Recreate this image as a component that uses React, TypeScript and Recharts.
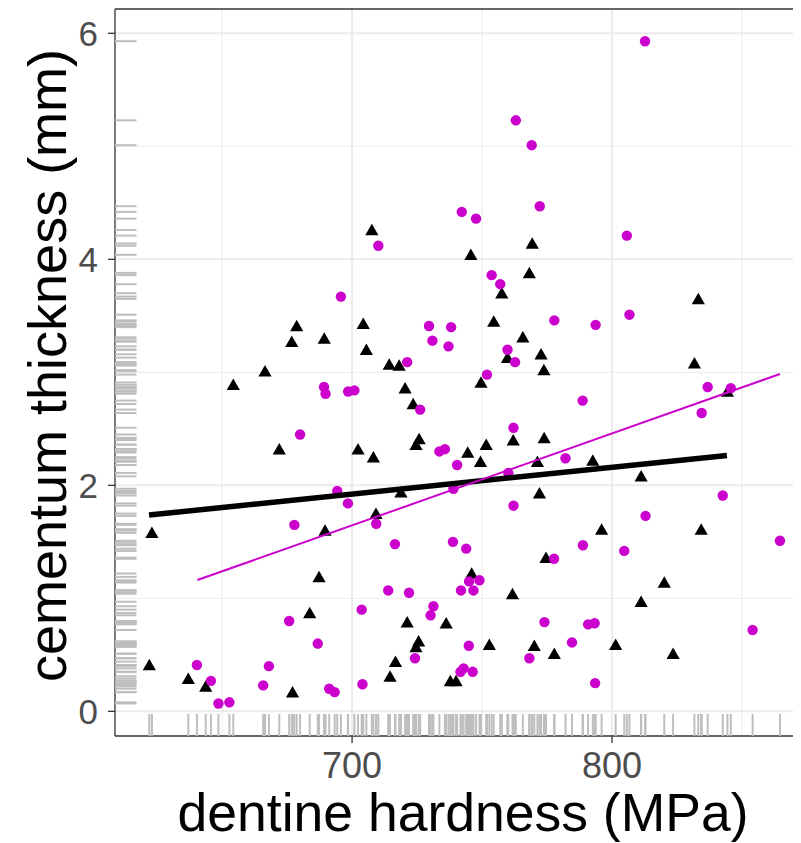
import React from "react";
import { ScatterChart, Scatter, XAxis, YAxis, ReferenceLine, Label } from "recharts";

// group 1: black triangles
const blackHardness = [
  623.0, 622.0, 637.0, 643.7, 654.3, 666.5, 672.0, 676.8, 678.7, 677.1,
  683.7, 687.3, 689.3, 689.6, 702.3, 704.3, 705.5, 707.6, 708.2, 709.2,
  714.3, 718.1, 718.8, 720.4, 723.5, 721.2, 714.6, 716.7, 725.8, 724.6,
  725.6, 724.6, 736.2, 737.8, 740.0, 744.5, 745.7, 746.0, 749.4, 749.6,
  751.6, 752.8, 754.5, 757.6, 759.8, 761.7, 762.0, 765.7, 768.2, 769.3,
  770.1, 771.3, 772.1, 772.7, 773.8, 773.9, 774.6, 777.8, 792.6, 796.0,
  801.4, 811.2, 811.2, 820.1, 823.5, 831.7, 833.2, 834.3, 844.4,
];
const blackThickness = [
  1.58, 0.41, 0.29, 0.22, 2.89, 3.01, 2.32, 3.27, 3.41, 0.17,
  0.87, 1.19, 3.30, 1.60, 2.32, 3.43, 3.20, 4.26, 2.25, 1.75,
  3.07, 3.06, 1.94, 2.86, 2.72, 0.79, 0.31, 0.44, 2.41, 2.36,
  0.62, 0.57, 0.78, 0.27, 0.27, 2.29, 4.04, 1.22, 2.21, 2.91,
  2.36, 0.59, 3.45, 3.70, 3.13, 1.04, 2.40, 3.31, 3.88, 4.14,
  0.58, 2.21, 1.93, 3.16, 3.02, 2.42, 1.36, 0.51, 2.22, 1.61,
  0.59, 2.08, 0.97, 1.14, 0.51, 3.08, 3.65, 1.61, 2.83,
];

// group 2: magenta circles
const magentaHardness = [
  812.7, 763.0, 769.1, 742.2, 747.7, 772.2, 805.7, 710.1, 695.7, 753.7,
  757.0, 806.7, 777.8, 793.7, 729.6, 738.1, 730.9, 737.1, 759.8, 762.7,
  721.2, 751.9, 788.7, 836.8, 845.7, 834.5, 689.2, 689.8, 698.5, 700.9,
  726.2, 762.1, 680.0, 733.6, 735.7, 740.4, 782.1, 760.1, 694.3, 739.0,
  842.6, 698.4, 762.1, 812.9, 677.8, 709.3, 716.5, 738.8, 743.9, 788.8,
  804.7, 864.6, 777.7, 745.0, 749.0, 713.9, 721.9, 741.9, 746.7, 703.7,
  731.3, 730.2, 675.8, 774.0, 790.8, 793.3, 854.1, 686.8, 744.9, 784.6,
  768.2, 724.2, 640.3, 668.0, 741.7, 742.9, 746.4, 645.7, 665.8, 691.2,
  693.3, 704.0, 793.5, 648.6, 652.8,
];
const magentaThickness = [
  5.93, 5.23, 5.01, 4.42, 4.36, 4.47, 4.21, 4.12, 3.67, 3.86,
  3.78, 3.51, 3.46, 3.42, 3.41, 3.40, 3.28, 3.23, 3.20, 3.09,
  3.09, 2.98, 2.75, 2.87, 2.86, 2.64, 2.87, 2.81, 2.83, 2.84,
  2.67, 2.51, 2.45, 2.30, 2.32, 2.18, 2.24, 2.11, 1.95, 1.97,
  1.91, 1.84, 1.82, 1.73, 1.65, 1.66, 1.48, 1.50, 1.44, 1.47,
  1.42, 1.51, 1.35, 1.15, 1.16, 1.07, 1.05, 1.07, 1.07, 0.90,
  0.93, 0.85, 0.80, 0.79, 0.77, 0.78, 0.72, 0.60, 0.58, 0.61,
  0.47, 0.47, 0.41, 0.40, 0.35, 0.38, 0.35, 0.27, 0.23, 0.20,
  0.17, 0.24, 0.25, 0.07, 0.08,
];

// fitted lines (end points)
const blackFitHardness = [621.9, 844.2];
const blackFitThickness = [1.737, 2.265];
const magentaFitHardness = [640.5, 864.6];
const magentaFitThickness = [1.162, 2.985];

const xMajorTicks = [700, 800];
const xMinorTicks = [650, 750, 850];
const yMajorTicks = [0, 2, 4, 6];
const yMinorTicks = [1, 3, 5];

const X_DOMAIN: [number, number] = [608.8, 872.7];
const Y_DOMAIN: [number, number] = [-0.218, 6.215];

const MAGENTA = "#CC00CC";
const RUG = "#BEBEBE";
const GRID = "#EBEBEB";
const FONT = "'Liberation Sans', Arial, Helvetica, sans-serif";

const zip = (xs: number[], ys: number[]) => xs.map((x, i) => ({ x, y: ys[i] }));

const blackData = zip(blackHardness, blackThickness);
const magentaData = zip(magentaHardness, magentaThickness);
const blackFit = zip(blackFitHardness, blackFitThickness);
const magentaFit = zip(magentaFitHardness, magentaFitThickness);

const allHardness = [...blackHardness, ...magentaHardness];
const allThickness = [...blackThickness, ...magentaThickness];
const rugXData = allHardness.map((x) => ({ x, y: Y_DOMAIN[0] }));
const rugYData = allThickness.map((y) => ({ x: X_DOMAIN[0], y }));

const Triangle = (props: any) => {
  const { cx, cy } = props;
  return (
    <polygon
      points={`${cx},${cy - 6.2} ${cx - 6.6},${cy + 5.3} ${cx + 6.6},${cy + 5.3}`}
      fill="#000"
    />
  );
};

const Dot = (props: any) => <circle cx={props.cx} cy={props.cy} r={5.2} fill={MAGENTA} />;

const RugX = (props: any) => (
  <line x1={props.cx} x2={props.cx} y1={props.cy} y2={props.cy - 22} stroke={RUG} strokeWidth={2} />
);
const RugY = (props: any) => (
  <line x1={props.cx} x2={props.cx + 21.5} y1={props.cy} y2={props.cy} stroke={RUG} strokeWidth={2} />
);

const NoDot = () => <g />;

const YTitle = ({ viewBox }: any) => {
  const x = viewBox.x + 58;
  const y = viewBox.y + viewBox.height / 2 - 7;
  return (
    <text
      x={x}
      y={y}
      transform={`rotate(-90, ${x}, ${y})`}
      textAnchor="middle"
      fontSize={54}
      fontFamily={FONT}
      fill="#000"
    >
      cementum thickness (mm)
    </text>
  );
};

const XTitle = ({ viewBox }: any) => (
  <text
    x={viewBox.x + viewBox.width / 2 + 5}
    y={viewBox.y + 95}
    textAnchor="middle"
    fontSize={53.5}
    fontFamily={FONT}
    fill="#000"
  >
    dentine hardness (MPa)
  </text>
);

export default function App() {
  return (
    <div style={{ width: 793, height: 835 }}>
      <ScatterChart width={793} height={835} margin={{ top: 1, right: 0, bottom: 0, left: 0 }}>
        <XAxis
          type="number"
          dataKey="x"
          domain={X_DOMAIN}
          ticks={xMajorTicks}
          allowDataOverflow
          height={107}
          tickSize={7}
          tickMargin={9}
          axisLine={{ stroke: "#333333", strokeWidth: 1.3 }}
          tickLine={{ stroke: "#333333", strokeWidth: 1.3 }}
          tick={{ fill: "#4D4D4D", fontSize: 36, fontFamily: FONT }}
        >
          <Label content={XTitle} />
        </XAxis>
        <YAxis
          type="number"
          dataKey="y"
          domain={Y_DOMAIN}
          ticks={yMajorTicks}
          allowDataOverflow
          width={107}
          tickSize={7}
          tickMargin={10}
          axisLine={{ stroke: "#333333", strokeWidth: 1.3 }}
          tickLine={{ stroke: "#333333", strokeWidth: 1.3 }}
          tick={{ fill: "#4D4D4D", fontSize: 35, fontFamily: FONT }}
        >
          <Label content={YTitle} />
        </YAxis>

        {xMinorTicks.map((v) => (
          <ReferenceLine key={`xm${v}`} x={v} stroke={GRID} strokeWidth={1} />
        ))}
        {yMinorTicks.map((v) => (
          <ReferenceLine key={`ym${v}`} y={v} stroke={GRID} strokeWidth={1} />
        ))}
        {xMajorTicks.map((v) => (
          <ReferenceLine key={`xM${v}`} x={v} stroke={GRID} strokeWidth={2} />
        ))}
        {yMajorTicks.map((v) => (
          <ReferenceLine key={`yM${v}`} y={v} stroke={GRID} strokeWidth={2} />
        ))}
        <ReferenceLine y={Y_DOMAIN[1]} stroke="#333333" strokeWidth={1.3} />

        <Scatter data={rugXData} shape={RugX} isAnimationActive={false} />
        <Scatter data={rugYData} shape={RugY} isAnimationActive={false} />

        <Scatter data={blackData} shape={Triangle} isAnimationActive={false} />
        <Scatter data={magentaData} shape={Dot} isAnimationActive={false} />

        <Scatter
          data={blackFit}
          shape={NoDot}
          line={{ stroke: "#000", strokeWidth: 5.5 }}
          isAnimationActive={false}
        />
        <Scatter
          data={magentaFit}
          shape={NoDot}
          line={{ stroke: MAGENTA, strokeWidth: 2 }}
          isAnimationActive={false}
        />
      </ScatterChart>
    </div>
  );
}
